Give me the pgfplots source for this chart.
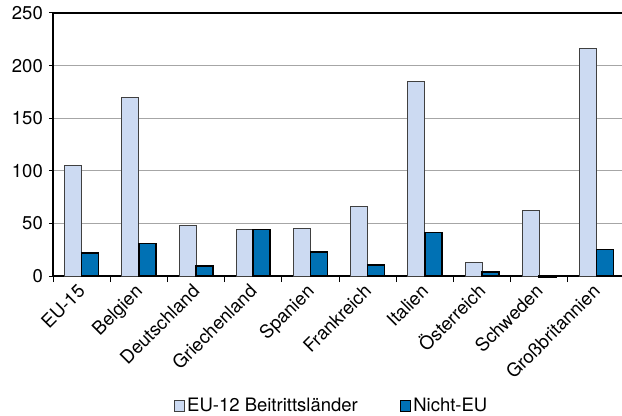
\documentclass[border=0pt]{standalone}
\usepackage{fontspec}
\setmainfont{TeX Gyre Heros}
\usepackage{pgfplots}
\pgfplotsset{compat=1.18}
\definecolor{hell}{HTML}{CCDAF2}
\definecolor{dunkel}{HTML}{0071B4}
\definecolor{gitter}{HTML}{A6A6A6}
\begin{document}
\begin{tikzpicture}[font=\fontsize{18.5bp}{22bp}\selectfont]
\begin{axis}[
    at={(0,0)}, anchor=south west,
    scale only axis,
    width=569bp, height=263bp,
    ybar=0pt, bar width=17bp,
    xmin=-0.5, xmax=9.447,
    ymin=0, ymax=250,
    ytick={0,50,...,250},
    xtick={0,...,9},
    xticklabels={EU-15,Belgien,Deutschland,Griechenland,Spanien,Frankreich,Italien,Österreich,Schweden,Großbritannien},
    minor xtick={-0.5,0.5,...,9.5},
    axis x line=box, axis y line=left,
    axis line style={black, line width=1.1bp, -},
    tick align=outside,
    major tick length=4bp, minor tick length=6bp,
    major x tick style={draw=none},
    minor x tick style={black, line width=1bp},
    major y tick style={black, line width=1bp},
    xtick pos=bottom, ytick pos=left,
    ymajorgrids, grid style={gitter, line width=1.1bp},
    clip=false,
    /pgf/number format/assume math mode=true,
    xticklabel style={xshift=4.8bp, yshift=-12.5bp, rotate=45, anchor=base east, inner sep=0pt},
    yticklabel style={inner sep=0pt, xshift=-6bp},
    legend style={at={(rel axis cs:0.49,-0.494)}, anchor=center, draw=none, fill=none,
        legend columns=2, /tikz/every even column/.append style={column sep=40bp}},
    legend image code/.code={\draw[#1] (0bp,-5.5bp) rectangle (10bp,5.5bp);},
]
\addplot[fill=hell, draw=black!75, line width=0.9bp] coordinates {
    (0,105) (1,170) (2,48) (3,44) (4,45) (5,66) (6,185) (7,13) (8,62) (9,216.5)
};
\addplot[fill=dunkel, draw=black, line width=1.5bp] coordinates {
    (0,22) (1,31) (2,9.5) (3,44) (4,23) (5,10.5) (6,41.5) (7,4) (8,-0.8) (9,25)
};
\legend{EU-12 Beitrittsländer, Nicht-EU}
\end{axis}
\pgfresetboundingbox
\path[use as bounding box] (-53bp,-140bp) rectangle (569bp,276bp);
\end{tikzpicture}
\end{document}
